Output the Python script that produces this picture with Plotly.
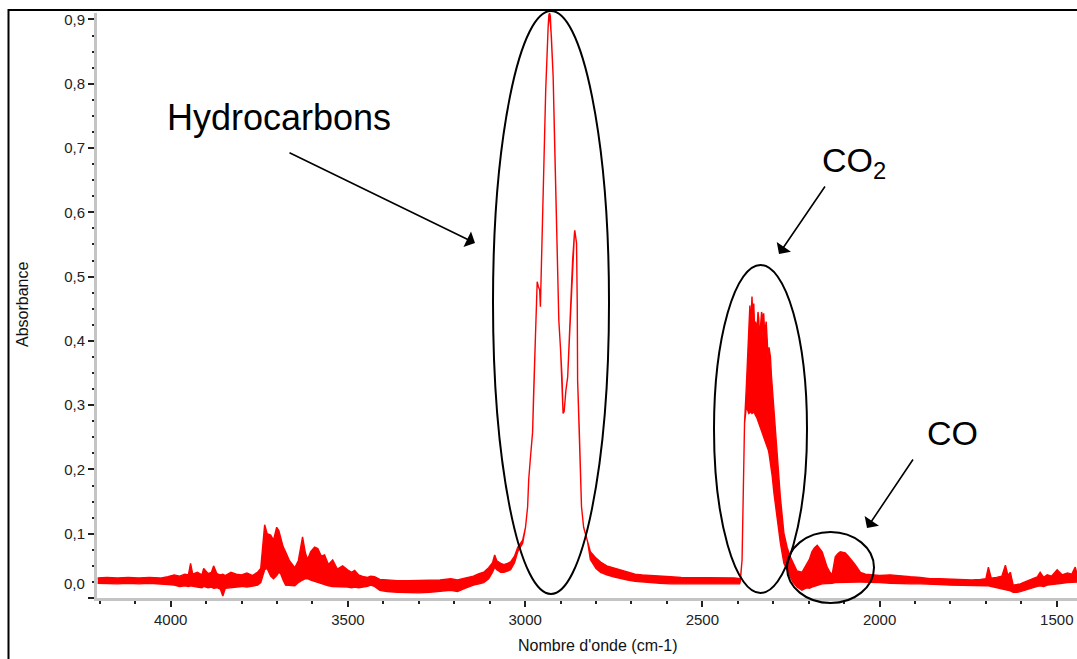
import plotly.graph_objects as go

# ---- data (wavenumber in cm-1, absorbance envelope of the noisy trace) ----
wavenumber = [
    4206, 4180, 4150, 4120, 4090, 4060, 4030, 4008, 3990, 3975, 3960, 3950, 3944, 3938, 3925,
    3912, 3907, 3895, 3885, 3879, 3870, 3860, 3853, 3846, 3830, 3815, 3800, 3785, 3770, 3755,
    3746, 3740, 3735, 3728, 3718, 3710, 3701, 3695, 3690, 3683, 3676, 3665, 3650, 3640, 3628,
    3620, 3614, 3605, 3594, 3585, 3575, 3566, 3555, 3543, 3530, 3515, 3501, 3490, 3481, 3470,
    3455, 3445, 3436, 3425, 3410, 3390, 3360, 3330, 3300, 3270, 3240, 3210, 3191, 3170, 3146,
    3130, 3117, 3103, 3092, 3086, 3080, 3069, 3060, 3050, 3041, 3030, 3021, 3007, 2999, 2993,
    2990, 2985, 2979, 2976, 2971, 2966, 2963, 2959, 2957, 2954, 2951, 2947, 2942, 2935, 2933,
    2931, 2929, 2926, 2921, 2917, 2913, 2909, 2905, 2900, 2896, 2893, 2890, 2885, 2880, 2874,
    2870, 2866, 2861, 2860, 2855, 2853, 2852, 2847, 2843, 2841, 2835, 2824, 2816, 2800, 2787,
    2770, 2751, 2730, 2711, 2690, 2670, 2650, 2620, 2590, 2560, 2530, 2500, 2470, 2440, 2410,
    2395, 2393, 2388, 2385, 2381, 2376, 2372, 2369, 2366, 2364, 2362, 2360, 2357, 2355, 2352,
    2350, 2346, 2343, 2341, 2338, 2336, 2333, 2331, 2329, 2327, 2324, 2322, 2320, 2317, 2314,
    2312, 2308, 2305, 2303, 2298, 2289, 2280, 2270, 2261, 2252, 2245, 2233, 2219,
    2212, 2205, 2198, 2191, 2184, 2176, 2169, 2162, 2155, 2148, 2140, 2134, 2125, 2118, 2111,
    2104, 2097, 2090, 2083, 2075, 2068, 2061, 2054, 2040, 2026, 2000, 1970, 1940, 1913, 1885,
    1857, 1830, 1800, 1770, 1740, 1715, 1700, 1693, 1685, 1670, 1655, 1645, 1638, 1631, 1623,
    1612, 1603, 1590, 1575, 1566, 1555, 1547, 1537, 1527, 1515, 1499, 1485, 1470, 1458, 1448,
    1443,
]

absorbance_high = [
    0.031, 0.032, 0.031, 0.032, 0.031, 0.032, 0.031, 0.033, 0.036, 0.034, 0.037, 0.036, 0.054, 0.037, 0.040,
    0.036, 0.046, 0.038, 0.040, 0.050, 0.038, 0.036, 0.037, 0.035, 0.040, 0.037, 0.036, 0.039, 0.035, 0.040,
    0.046, 0.085, 0.114, 0.100, 0.098, 0.090, 0.110, 0.105, 0.095, 0.080, 0.072, 0.058, 0.047, 0.058, 0.095,
    0.070, 0.060, 0.072, 0.079, 0.077, 0.065, 0.067, 0.052, 0.059, 0.045, 0.050, 0.044, 0.040, 0.043, 0.036,
    0.033, 0.032, 0.034, 0.033, 0.029, 0.028, 0.027, 0.027, 0.027, 0.028, 0.028, 0.030, 0.028, 0.031, 0.034,
    0.038, 0.040, 0.047, 0.055, 0.067, 0.058, 0.054, 0.052, 0.054, 0.056, 0.065, 0.079, 0.090, 0.110, 0.142,
    0.184, 0.219, 0.258, 0.320, 0.406, 0.492, 0.485, 0.479, 0.453, 0.521, 0.603, 0.692, 0.790, 0.890, 0.907,
    0.910, 0.905, 0.873, 0.811, 0.712, 0.609, 0.536, 0.432, 0.386, 0.344, 0.287, 0.290, 0.323, 0.344, 0.417,
    0.469, 0.526, 0.567, 0.572, 0.552, 0.456, 0.339, 0.256, 0.184, 0.142, 0.110, 0.090, 0.072, 0.062, 0.056,
    0.050, 0.047, 0.043, 0.040, 0.037, 0.036, 0.035, 0.034, 0.033, 0.032, 0.032, 0.032, 0.031, 0.031, 0.031,
    0.030, 0.028, 0.059, 0.132, 0.272, 0.328, 0.380, 0.422, 0.455, 0.420, 0.465, 0.469, 0.430, 0.458, 0.410,
    0.430, 0.417, 0.445, 0.435, 0.400, 0.422, 0.445, 0.440, 0.405, 0.443, 0.410, 0.420, 0.430, 0.401, 0.360,
    0.390, 0.375, 0.345, 0.330, 0.277, 0.215, 0.157, 0.101, 0.079, 0.064, 0.055, 0.042, 0.040,
    0.046, 0.054, 0.060, 0.072, 0.078, 0.082, 0.076, 0.072, 0.060, 0.048, 0.040, 0.036, 0.064, 0.069, 0.072,
    0.071, 0.070, 0.066, 0.062, 0.056, 0.051, 0.045, 0.040, 0.037, 0.036, 0.035, 0.036, 0.034, 0.033, 0.032,
    0.030, 0.030, 0.029, 0.029, 0.028, 0.029, 0.030, 0.048, 0.031, 0.032, 0.034, 0.051, 0.035, 0.040, 0.020,
    0.021, 0.022, 0.025, 0.028, 0.030, 0.033, 0.040, 0.032, 0.036, 0.034, 0.044, 0.036, 0.039, 0.037, 0.048,
    0.038,
]

absorbance_low = [
    0.023, 0.023, 0.022, 0.023, 0.022, 0.023, 0.022, 0.021, 0.020, 0.018, 0.019, 0.018, 0.019, 0.018, 0.017,
    0.016, 0.018, 0.016, 0.017, 0.015, 0.016, 0.014, 0.003, 0.015, 0.016, 0.017, 0.018, 0.017, 0.019, 0.020,
    0.024, 0.035, 0.044, 0.046, 0.034, 0.030, 0.035, 0.040, 0.038, 0.028, 0.020, 0.020, 0.019, 0.024, 0.028,
    0.030, 0.030, 0.028, 0.025, 0.024, 0.022, 0.021, 0.019, 0.018, 0.018, 0.017, 0.017, 0.016, 0.017, 0.016,
    0.017, 0.018, 0.020, 0.018, 0.012, 0.010, 0.009, 0.008, 0.008, 0.009, 0.010, 0.012, 0.010, 0.015, 0.020,
    0.022, 0.024, 0.030, 0.040, 0.048, 0.044, 0.040, 0.040, 0.042, 0.044, 0.055, 0.072, 0.085, 0.110, 0.142,
    0.184, 0.219, 0.258, 0.320, 0.406, 0.492, 0.485, 0.479, 0.453, 0.521, 0.603, 0.692, 0.790, 0.890, 0.907,
    0.910, 0.905, 0.873, 0.811, 0.712, 0.609, 0.536, 0.432, 0.386, 0.344, 0.287, 0.290, 0.323, 0.344, 0.417,
    0.469, 0.526, 0.567, 0.572, 0.552, 0.456, 0.339, 0.256, 0.184, 0.142, 0.110, 0.088, 0.060, 0.046, 0.040,
    0.036, 0.033, 0.030, 0.028, 0.026, 0.025, 0.024, 0.023, 0.022, 0.022, 0.022, 0.021, 0.021, 0.022, 0.022,
    0.022, 0.026, 0.059, 0.132, 0.272, 0.297, 0.292, 0.287, 0.288, 0.290, 0.289, 0.287, 0.288, 0.290, 0.287,
    0.284, 0.280, 0.278, 0.275, 0.270, 0.266, 0.262, 0.258, 0.254, 0.250, 0.246, 0.243, 0.240, 0.235, 0.230,
    0.225, 0.215, 0.200, 0.190, 0.163, 0.121, 0.086, 0.054, 0.044, 0.033, 0.025, 0.017, 0.012,
    0.014, 0.016, 0.015, 0.017, 0.019, 0.020, 0.021, 0.022, 0.022, 0.023, 0.023, 0.023, 0.024, 0.025, 0.025,
    0.025, 0.025, 0.025, 0.025, 0.025, 0.025, 0.025, 0.025, 0.025, 0.025, 0.024, 0.023, 0.023, 0.022, 0.022,
    0.022, 0.021, 0.020, 0.020, 0.019, 0.019, 0.019, 0.019, 0.018, 0.016, 0.014, 0.012, 0.012, 0.011, 0.009,
    0.009, 0.010, 0.012, 0.014, 0.016, 0.018, 0.019, 0.018, 0.020, 0.020, 0.022, 0.023, 0.024, 0.025, 0.025,
    0.025,
]

y_tick_values = [0.0, 0.1, 0.2, 0.3, 0.4, 0.5, 0.6, 0.7, 0.8, 0.9]
y_tick_labels = ["", "0,1", "0,2", "0,3", "0,4", "0,5", "0,6", "0,7", "0,8", "0,9"]
x_tick_values = [4000, 3500, 3000, 2500, 2000, 1500]
x_tick_labels = ["4000", "3500", "3000", "2500", "2000", "1500"]

# ---- figure geometry (pixels) ----
W, H = 1077, 659
ML, MR, MT, MB = 97, 0, 13, 61
PW, PH = W - ML - MR, H - MT - MB


def px(x):
    return (x - ML) / PW


def py(y):
    return (H - MB - y) / PH


FONT = "Liberation Sans, Arial, sans-serif"
RED = "#ff0000"

fig = go.Figure()
fig.add_trace(go.Scatter(
    x=wavenumber + wavenumber[::-1],
    y=absorbance_high + absorbance_low[::-1],
    mode="lines",
    fill="toself",
    fillcolor=RED,
    line=dict(color=RED, width=1.4),
    hoverinfo="skip",
    showlegend=False,
))

shapes = [
    # outer frame (top + left)
    dict(type="line", xref="paper", yref="paper", x0=px(8), x1=px(1080), y0=py(10), y1=py(10),
         line=dict(color="black", width=2)),
    dict(type="line", xref="paper", yref="paper", x0=px(8.5), x1=px(8.5), y0=py(9), y1=py(662),
         line=dict(color="black", width=2)),
    # ellipses
    dict(type="circle", xref="paper", yref="paper", x0=px(493), x1=px(609), y0=py(594), y1=py(11),
         line=dict(color="black", width=2)),
    dict(type="circle", xref="paper", yref="paper", x0=px(714), x1=px(807), y0=py(593), y1=py(265),
         line=dict(color="black", width=2)),
    dict(type="circle", xref="paper", yref="paper", x0=px(787), x1=px(874), y0=py(603), y1=py(532),
         line=dict(color="black", width=2)),
]

annotations = [
    dict(text="Hydrocarbons", xref="paper", yref="paper", x=px(279), y=py(117), showarrow=False,
         font=dict(family=FONT, size=36, color="black"), xanchor="center", yanchor="middle"),
    dict(text="CO<sub>2</sub>", xref="paper", yref="paper", x=px(854), y=py(162), showarrow=False,
         font=dict(family=FONT, size=34, color="black"), xanchor="center", yanchor="middle"),
    dict(text="CO", xref="paper", yref="paper", x=px(952), y=py(433), showarrow=False,
         font=dict(family=FONT, size=34, color="black"), xanchor="center", yanchor="middle"),
    # arrows
    dict(text="", xref="paper", yref="paper", x=px(475), y=py(243), ax=288 - 475, ay=152 - 243,
         showarrow=True, arrowhead=1, arrowsize=1.8, arrowwidth=1.6, arrowcolor="black"),
    dict(text="", xref="paper", yref="paper", x=px(779), y=py(254), ax=826 - 779, ay=185 - 254,
         showarrow=True, arrowhead=1, arrowsize=1.8, arrowwidth=1.6, arrowcolor="black"),
    dict(text="", xref="paper", yref="paper", x=px(867), y=py(528), ax=914 - 867, ay=458 - 528,
         showarrow=True, arrowhead=1, arrowsize=1.8, arrowwidth=1.6, arrowcolor="black"),
    # axis titles
    dict(text="Absorbance", xref="paper", yref="paper", x=px(22), y=py(305), showarrow=False,
         textangle=-90, font=dict(family=FONT, size=16, color="#111"), xanchor="center", yanchor="middle"),
    dict(text="Nombre d'onde (cm-1)", xref="paper", yref="paper", x=px(598), y=py(645), showarrow=False,
         font=dict(family=FONT, size=16, color="#111"), xanchor="center", yanchor="middle"),
    # displaced zero label
    dict(text="0,0", xref="paper", yref="paper", x=px(87), y=py(583), showarrow=False,
         font=dict(family=FONT, size=15, color="#222"), xanchor="right", yanchor="middle"),
]

fig.update_layout(
    width=W, height=H,
    margin=dict(l=ML, r=MR, t=MT, b=MB, pad=0),
    paper_bgcolor="white", plot_bgcolor="white",
    showlegend=False,
    shapes=shapes,
    annotations=annotations,
    font=dict(family=FONT, size=15, color="#222"),
    xaxis=dict(
        range=[4208, 1443], autorange=False,
        showgrid=False, zeroline=False,
        showline=True, linecolor="#c4c4c4", linewidth=3,
        ticks="outside", ticklen=6, tickwidth=1.5, tickcolor="#222",
        tickvals=x_tick_values, ticktext=x_tick_labels,
        tickfont=dict(family=FONT, size=15, color="#222"),
        minor=dict(dtick=100, tick0=0, ticks="outside", ticklen=3, tickwidth=1.5, tickcolor="#222"),
    ),
    yaxis=dict(
        range=[0, 0.91], autorange=False,
        showgrid=False, zeroline=False,
        showline=True, linecolor="#c4c4c4", linewidth=3,
        ticks="outside", ticklen=6, tickwidth=1.5, tickcolor="#222",
        tickvals=y_tick_values, ticktext=y_tick_labels,
        tickfont=dict(family=FONT, size=15, color="#222"),
        minor=dict(dtick=0.025, tick0=0, ticks="outside", ticklen=2, tickwidth=1.5, tickcolor="#222"),
    ),
)

fig.write_html("out.html")
